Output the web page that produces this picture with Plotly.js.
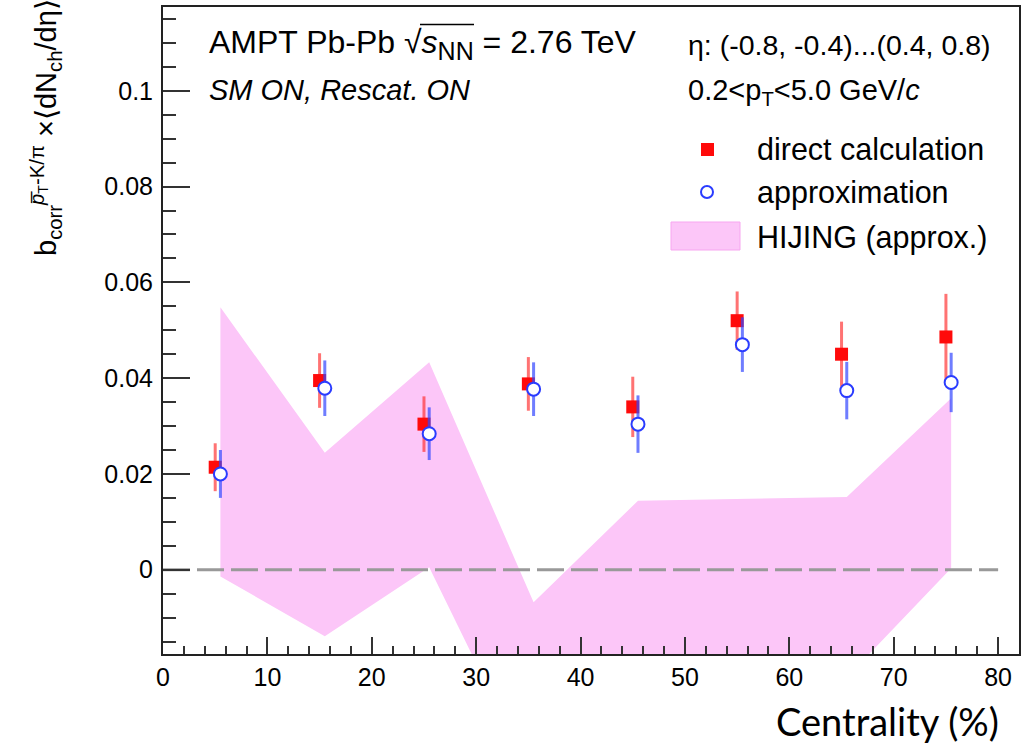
<!DOCTYPE html>
<html>
<head>
<meta charset="utf-8">
<script src="https://cdn.plot.ly/plotly-3.0.1.min.js"></script>
<style>html,body{margin:0;padding:0;background:#fff;}#chart{width:1026px;height:746px;}</style>
</head>
<body>
<div id="chart"></div>
<script>
// ---- data ----
const centralityDirect = [5, 15, 25, 35, 45, 55, 65, 75];
const directValues = [0.0214, 0.0395, 0.0304, 0.0388, 0.0340, 0.0520, 0.0450, 0.0486];
const directErrors = [0.0050, 0.0057, 0.0058, 0.0056, 0.0063, 0.0061, 0.0068, 0.0090];

const centralityApprox = [5.5, 15.5, 25.5, 35.5, 45.5, 55.5, 65.5, 75.5];
const approxValues = [0.0200, 0.0379, 0.0284, 0.0377, 0.0304, 0.0470, 0.0374, 0.0391];
const approxErrors = [0.0050, 0.0058, 0.0055, 0.0056, 0.0060, 0.0057, 0.0060, 0.0062];

const hijingX = [5.5, 15.5, 25.5, 35.5, 45.5, 55.5, 65.5, 75.5];
const hijingUpper = [0.0548, 0.0244, 0.0433, -0.0068, 0.0144, 0.0148, 0.0152, 0.0358];
const hijingLower = [-0.0014, -0.0139, 0.0005, -0.0440, -0.0340, -0.0300, -0.0225, 0.0003];

const xTickVals = [0, 10, 20, 30, 40, 50, 60, 70, 80];
const yTickVals = [0, 0.02, 0.04, 0.06, 0.08, 0.1];
const yTickText = ['0', '0.02', '0.04', '0.06', '0.08', '0.1'];
const zeroLineX = [0, 80];
const zeroLineY = [0, 0];

// ---- traces ----
const band = {
  x: hijingX.concat(hijingX.slice().reverse()),
  y: hijingUpper.concat(hijingLower.slice().reverse()),
  type: 'scatter', mode: 'lines', fill: 'toself',
  fillcolor: '#fcc6f8', line: {width: 0, color: '#fcc6f8'},
  name: 'HIJING (approx.)', showlegend: false, hoverinfo: 'skip'
};
const zeroLine = {
  x: zeroLineX, y: zeroLineY, type: 'scatter', mode: 'lines',
  line: {color: '#999999', width: 3, dash: '27px,7px'},
  showlegend: false, hoverinfo: 'skip'
};
const direct = {
  x: centralityDirect, y: directValues, type: 'scatter', mode: 'markers',
  name: 'direct calculation', showlegend: false,
  error_y: {type: 'data', array: directErrors, visible: true, color: 'rgba(255,40,40,0.65)', thickness: 3, width: 0},
  marker: {symbol: 'square', size: 13, color: '#ff0a0a', line: {width: 0}}
};
const approx = {
  x: centralityApprox, y: approxValues, type: 'scatter', mode: 'markers',
  name: 'approximation', showlegend: false,
  error_y: {type: 'data', array: approxErrors, visible: true, color: 'rgba(50,70,255,0.7)', thickness: 3, width: 0},
  marker: {symbol: 'circle', size: 13, color: '#ffffff', line: {width: 2, color: '#2a3cff'}}
};

// helper: pixel -> paper
const L = 163, R = 7, T = 7, B = 92, W = 1026, H = 746;
const pw = W - L - R, ph = H - T - B;
const px = v => (v - L) / pw;
const py = v => (H - B - v) / ph;

const fam = 'Liberation Sans, Arial, sans-serif';

const annotations = [
  {text: 'AMPT Pb-Pb √<i>s</i><sub><span style="font-size:25px">NN</span></sub> = 2.76 TeV', x: px(207), y: py(44), xanchor: 'left', yanchor: 'middle',
   font: {family: fam, size: 32, color: '#000'}},
  {text: '<i>SM ON, Rescat. ON</i>', x: px(207), y: py(90), xanchor: 'left', yanchor: 'middle',
   font: {family: fam, size: 29, color: '#000'}},
  {text: 'η: (-0.8, -0.4)...(0.4, 0.8)', x: px(686), y: py(45), xanchor: 'left', yanchor: 'middle',
   font: {family: fam, size: 28.5, color: '#000'}},
  {text: '0.2<p<sub>T</sub><5.0 GeV/<i>c</i>', x: px(686), y: py(92), xanchor: 'left', yanchor: 'middle',
   font: {family: fam, size: 29, color: '#000'}},
  {text: 'direct calculation', x: px(755), y: py(149), xanchor: 'left', yanchor: 'middle',
   font: {family: fam, size: 30.5, color: '#000'}},
  {text: 'approximation', x: px(755), y: py(192), xanchor: 'left', yanchor: 'middle',
   font: {family: fam, size: 30.5, color: '#000'}},
  {text: 'HIJING (approx.)', x: px(755), y: py(237), xanchor: 'left', yanchor: 'middle',
   font: {family: fam, size: 30.5, color: '#000'}},
  {text: 'b<sub>corr</sub><sup><i>p̅</i><sub>T</sub>-K/π</sup> ×⟨dN<sub>ch</sub>/dη⟩', textangle: -90,
   x: px(46), y: py(128), xanchor: 'center', yanchor: 'middle',
   font: {family: fam, size: 29, color: '#000'}},
  {text: 'Centrality (%)', x: px(1001), y: py(721), xanchor: 'right', yanchor: 'middle',
   font: {family: 'Lato, Open Sans, sans-serif', size: 38, color: '#000'}}
].map(a => Object.assign({xref: 'paper', yref: 'paper', showarrow: false}, a));

const shapes = [
  // overline of the square root
  {type: 'line', xref: 'paper', yref: 'paper', x0: px(420), x1: px(474), y0: py(24.5), y1: py(24.5),
   line: {width: 1.5, color: '#000'}},
  // legend symbols
  {type: 'rect', xref: 'paper', yref: 'paper', x0: px(701), x1: px(714), y0: py(156), y1: py(143),
   fillcolor: '#ff0a0a', line: {width: 0}},
  {type: 'circle', xref: 'paper', yref: 'paper', x0: px(701), x1: px(713), y0: py(198), y1: py(186),
   fillcolor: '#ffffff', line: {width: 2, color: '#2a3cff'}},
  {type: 'rect', xref: 'paper', yref: 'paper', x0: px(671), x1: px(740), y0: py(250), y1: py(222),
   fillcolor: '#fcc6f8', line: {width: 1, color: '#f7a6f0'}}
];

const axisCommon = {
  showgrid: false, zeroline: false, showline: true, linecolor: '#222', linewidth: 2, mirror: true,
  ticks: 'inside', tickcolor: '#333', tickwidth: 2,
  tickfont: {family: fam, size: 25, color: '#000'}
};

const layout = {
  width: W, height: H,
  margin: {l: L, r: R, t: T, b: B, pad: 0},
  paper_bgcolor: '#fff', plot_bgcolor: '#fff',
  showlegend: false,
  xaxis: Object.assign({}, axisCommon, {
    range: [0, 82], tickmode: 'array', tickvals: xTickVals, ticklen: 17,
    minor: {dtick: 2, tick0: 0, ticks: 'inside', ticklen: 8, tickcolor: '#333', tickwidth: 2}
  }),
  yaxis: Object.assign({}, axisCommon, {
    range: [-0.0176, 0.1175], tickmode: 'array', tickvals: yTickVals, ticktext: yTickText, ticklen: 27,
    ticklabelstandoff: 3,
    minor: {dtick: 0.005, tick0: 0, ticks: 'inside', ticklen: 13, tickcolor: '#333', tickwidth: 2}
  }),
  annotations: annotations,
  shapes: shapes
};

Plotly.newPlot('chart', [band, zeroLine, direct, approx], layout, {displayModeBar: false, staticPlot: true});
</script>
</body>
</html>
